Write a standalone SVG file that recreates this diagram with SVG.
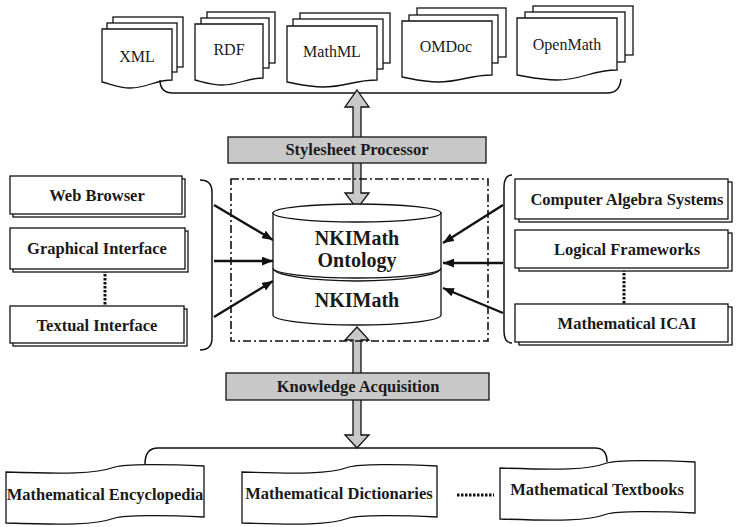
<svg xmlns="http://www.w3.org/2000/svg" width="739" height="527" viewBox="0 0 739 527">
<style>
  .pg { fill: #fff; stroke: #111; stroke-width: 1.3; }
  .box { fill: #fff; stroke: #111; stroke-width: 1.3; }
  .bar { fill: #c8c8c8; stroke: #111; stroke-width: 1.3; }
  .line { fill: none; stroke: #111; stroke-width: 1.5; }
  .arr { fill: none; stroke: #111; stroke-width: 2.4; marker-end: url(#ah); }
  .dots { fill: none; stroke: #111; stroke-width: 3; stroke-dasharray: 2.5 1.5; }
  .t { font-family: "Liberation Serif", "Times New Roman", serif; fill: #1a1a1a; text-anchor: middle; }
  .reg { font-size: 16px; }
  .b { font-size: 16.5px; font-weight: bold; }
  .big { font-size: 20px; font-weight: bold; }
</style>
<defs>
  <marker id="ah" viewBox="0 0 10 8" refX="10" refY="4" markerWidth="11" markerHeight="9" markerUnits="userSpaceOnUse" orient="auto">
    <path d="M0,0 L10,4 L0,8 Z" fill="#111"/>
  </marker>
</defs>
<rect width="739" height="527" fill="#fff"/>

<!-- top documents -->
<g id="doc-xml">
  <rect class="pg" x="113" y="17" width="70" height="50"/>
  <rect class="pg" x="107" y="23" width="70" height="49"/>
  <path class="pg" d="M102,29 H172 V80 C154.5,80 147.5,88 130,88 C119.5,88 110.4,84 102,82 Z"/>
  <text class="t reg" x="137" y="62">XML</text>
</g>
<g id="doc-rdf">
  <rect class="pg" x="207" y="12" width="68" height="51"/>
  <rect class="pg" x="201" y="18" width="68" height="50"/>
  <path class="pg" d="M195,24 H263 V78 C246,78 239.2,85 222.2,85 C212,85 203.2,82 195,80 Z"/>
  <text class="t reg" x="229" y="55">RDF</text>
</g>
<g id="doc-mathml">
  <rect class="pg" x="300" y="13" width="90" height="50"/>
  <rect class="pg" x="293" y="19" width="90" height="50"/>
  <path class="pg" d="M287,26 H377 V80 C354.5,80 345.5,87 323,87 C309.5,87 297.8,84 287,82 Z"/>
  <text class="t reg" x="332" y="57">MathML</text>
</g>
<g id="doc-omdoc">
  <rect class="pg" x="417" y="8" width="89" height="49"/>
  <rect class="pg" x="409" y="15" width="89" height="48"/>
  <path class="pg" d="M402,21 H492 V75 C469.5,75 460.5,82 438,82 C424.5,82 412.8,79 402,77 Z"/>
  <text class="t reg" x="446" y="52">OMDoc</text>
</g>
<g id="doc-openmath">
  <rect class="pg" x="533" y="6" width="100" height="49"/>
  <rect class="pg" x="525" y="12" width="100" height="50"/>
  <path class="pg" d="M517,18 H617 V70 C592,70 582,80 557,80 C542,80 529,77 517,75 Z"/>
  <text class="t reg" x="567" y="50">OpenMath</text>
</g>

<g id="connectors">
  <!-- braces -->
  <path class="line" d="M160,80 Q160,93 173,93 H607 Q620,93 621,79"/>
  <path class="line" d="M200,180 Q212,180 212,192 V338 Q212,350 200,350"/>
  <path class="line" d="M512,175 Q504,175 504,187 V331 Q504,343 512,343"/>
  <path class="line" d="M145,464 Q145,448 158,448 H595 Q607,448 607,462"/>
  <!-- block arrows -->
  <polygon class="bar" points="357,90 369,107 361,107 361,193 369,193 357,209 345,193 353,193 353,107 345,107"/>
  <polygon class="bar" points="357,327 369,340 361,340 361,435 369,435 357,448 345,435 353,435 353,340 345,340"/>
  <!-- dotted links -->
  <line class="dots" x1="105" y1="270" x2="105" y2="306"/>
  <line class="dots" x1="624" y1="269" x2="624" y2="304"/>
  <line class="dots" x1="457" y1="495" x2="494" y2="495"/>
  <!-- dash-dot boundary -->
  <rect x="231" y="179" width="257" height="162" fill="none" stroke="#111" stroke-width="1.6" stroke-dasharray="8 3 2 3"/>
  <!-- thin arrows -->
  <line class="arr" x1="214" y1="205" x2="273" y2="240"/>
  <line class="arr" x1="214" y1="261" x2="273" y2="261"/>
  <line class="arr" x1="214" y1="317" x2="273" y2="281"/>
  <line class="arr" x1="503" y1="205" x2="443" y2="243"/>
  <line class="arr" x1="503" y1="263" x2="443" y2="263"/>
  <line class="arr" x1="503" y1="313" x2="443" y2="288"/>
</g>

<g id="stylesheet-processor">
  <rect class="bar" x="228" y="137" width="258" height="26"/>
  <text class="t b" x="357" y="155">Stylesheet Processor</text>
</g>

<g id="knowledge-acquisition">
  <rect class="bar" x="226" y="373" width="263" height="27"/>
  <text class="t b" x="358" y="392">Knowledge Acquisition</text>
</g>

<g id="nkimath-db">
  <path class="box" d="M273,268 A84,13 0 0 0 441,268 V315 A84,10 0 0 1 273,315 Z"/>
  <path class="box" d="M273,213 V268 A84,10 0 0 0 441,268 V213 Z"/>
  <ellipse class="box" cx="357" cy="213" rx="84" ry="9"/>
  <text class="t big" x="357" y="245">NKIMath</text>
  <text class="t big" x="357" y="267">Ontology</text>
  <text class="t big" x="357" y="307">NKIMath</text>
</g>

<!-- left boxes -->
<g id="web-browser">
  <rect class="box" x="13" y="179" width="172" height="38"/>
  <rect class="box" x="10" y="176" width="172" height="38"/>
  <text class="t b" x="97" y="201">Web Browser</text>
</g>
<g id="graphical-interface">
  <rect class="box" x="13" y="231" width="175" height="41"/>
  <rect class="box" x="10" y="228" width="175" height="41"/>
  <text class="t b" x="97" y="254">Graphical Interface</text>
</g>
<g id="textual-interface">
  <rect class="box" x="13" y="309" width="174" height="37"/>
  <rect class="box" x="10" y="306" width="174" height="37"/>
  <text class="t b" x="97" y="331">Textual Interface</text>
</g>

<!-- right boxes -->
<g id="computer-algebra-systems">
  <rect class="box" x="519" y="182" width="213" height="40"/>
  <rect class="box" x="515" y="179" width="213" height="40"/>
  <text class="t b" x="627" y="205">Computer Algebra Systems</text>
</g>
<g id="logical-frameworks">
  <rect class="box" x="519" y="233" width="213" height="38"/>
  <rect class="box" x="515" y="230" width="213" height="38"/>
  <text class="t b" x="627" y="255">Logical Frameworks</text>
</g>
<g id="mathematical-icai">
  <rect class="box" x="519" y="307" width="213" height="38"/>
  <rect class="box" x="515" y="304" width="213" height="38"/>
  <text class="t b" x="627" y="329">Mathematical ICAI</text>
</g>

<!-- bottom sources -->
<g id="encyclopedia">
  <path class="box" d="M6,472 C65,474 95,474 115,467 C125,464 164,464 204,466 L204,517 C164,515 125,515 115,518 C95,525 65,525 6,523 Z"/>
  <text class="t b" x="105" y="500">Mathematical Encyclopedia</text>
</g>
<g id="dictionaries">
  <path class="box" d="M242,472 C300,474 330,474 349,467 C359,464 398,464 437,466 L437,517 C398,515 359,515 349,518 C330,525 300,525 242,523 Z"/>
  <text class="t b" x="339" y="499">Mathematical Dictionaries</text>
</g>
<g id="textbooks">
  <path class="box" d="M500,468 C559,470 588,470 607,463 C617,460 656,460 695,462 L695,513 C656,511 617,511 607,514 C588,521 559,521 500,519 Z"/>
  <text class="t b" x="597" y="495">Mathematical Textbooks</text>
</g>
</svg>
